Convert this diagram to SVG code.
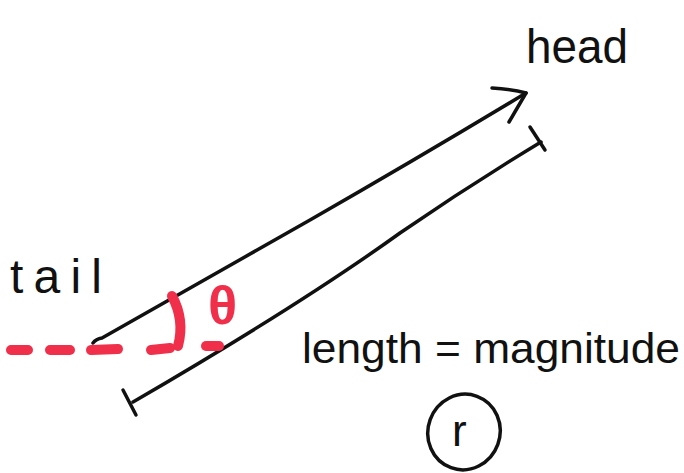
<svg xmlns="http://www.w3.org/2000/svg" width="684" height="473" viewBox="0 0 684 473">
<style>
.ink{fill:none;stroke:#111;stroke-width:3.5;stroke-linecap:round;stroke-linejoin:round}
.red{fill:none;stroke:#f0304a;stroke-width:10;stroke-linecap:round;stroke-linejoin:round}
.lbl{font-family:"Liberation Sans",Arial,sans-serif;fill:#111}
</style>
<rect width="684" height="473" fill="#fff"/>
<g id="connectors">
<path class="ink" d="M93 343 Q96 339 102 338 L310 220 Q420 157 526 93"/>
<path class="ink" d="M492 88 Q512 89 526 93 L509 122"/>
<path class="ink" d="M133 402 Q300 305 400 233 Q470 185 541 142"/>
<path class="ink" d="M123 390 L136 415"/>
<path class="ink" d="M530 127 L545 150"/>
<path class="red" d="M11 350 L28 350 M50 350 L70 350 M91 350 L118 349 M151 350 L170 348"/>
<path class="red" d="M172 296 Q185 320 178 346"/>
<path class="red" d="M206 346 L219 346"/>
</g>
<g id="head"><text class="lbl" x="526" y="63" font-size="48" textLength="102" lengthAdjust="spacingAndGlyphs">head</text></g>
<g id="tail"><text class="lbl" x="10" y="293" font-size="48" textLength="92" lengthAdjust="spacing">tail</text></g>
<g id="theta"><text x="208" y="324" font-family="Liberation Sans,Arial,sans-serif" font-size="54" font-weight="bold" fill="#f0304a">θ</text></g>
<g id="magnitude"><text class="lbl" x="302" y="363" font-size="42" textLength="378" lengthAdjust="spacingAndGlyphs">length = magnitude</text></g>
<g id="r">
<ellipse class="ink" cx="464" cy="432" rx="36" ry="38" transform="rotate(20 464 432)"/>
<text class="lbl" x="452" y="446" font-size="44">r</text>
</g>
</svg>
